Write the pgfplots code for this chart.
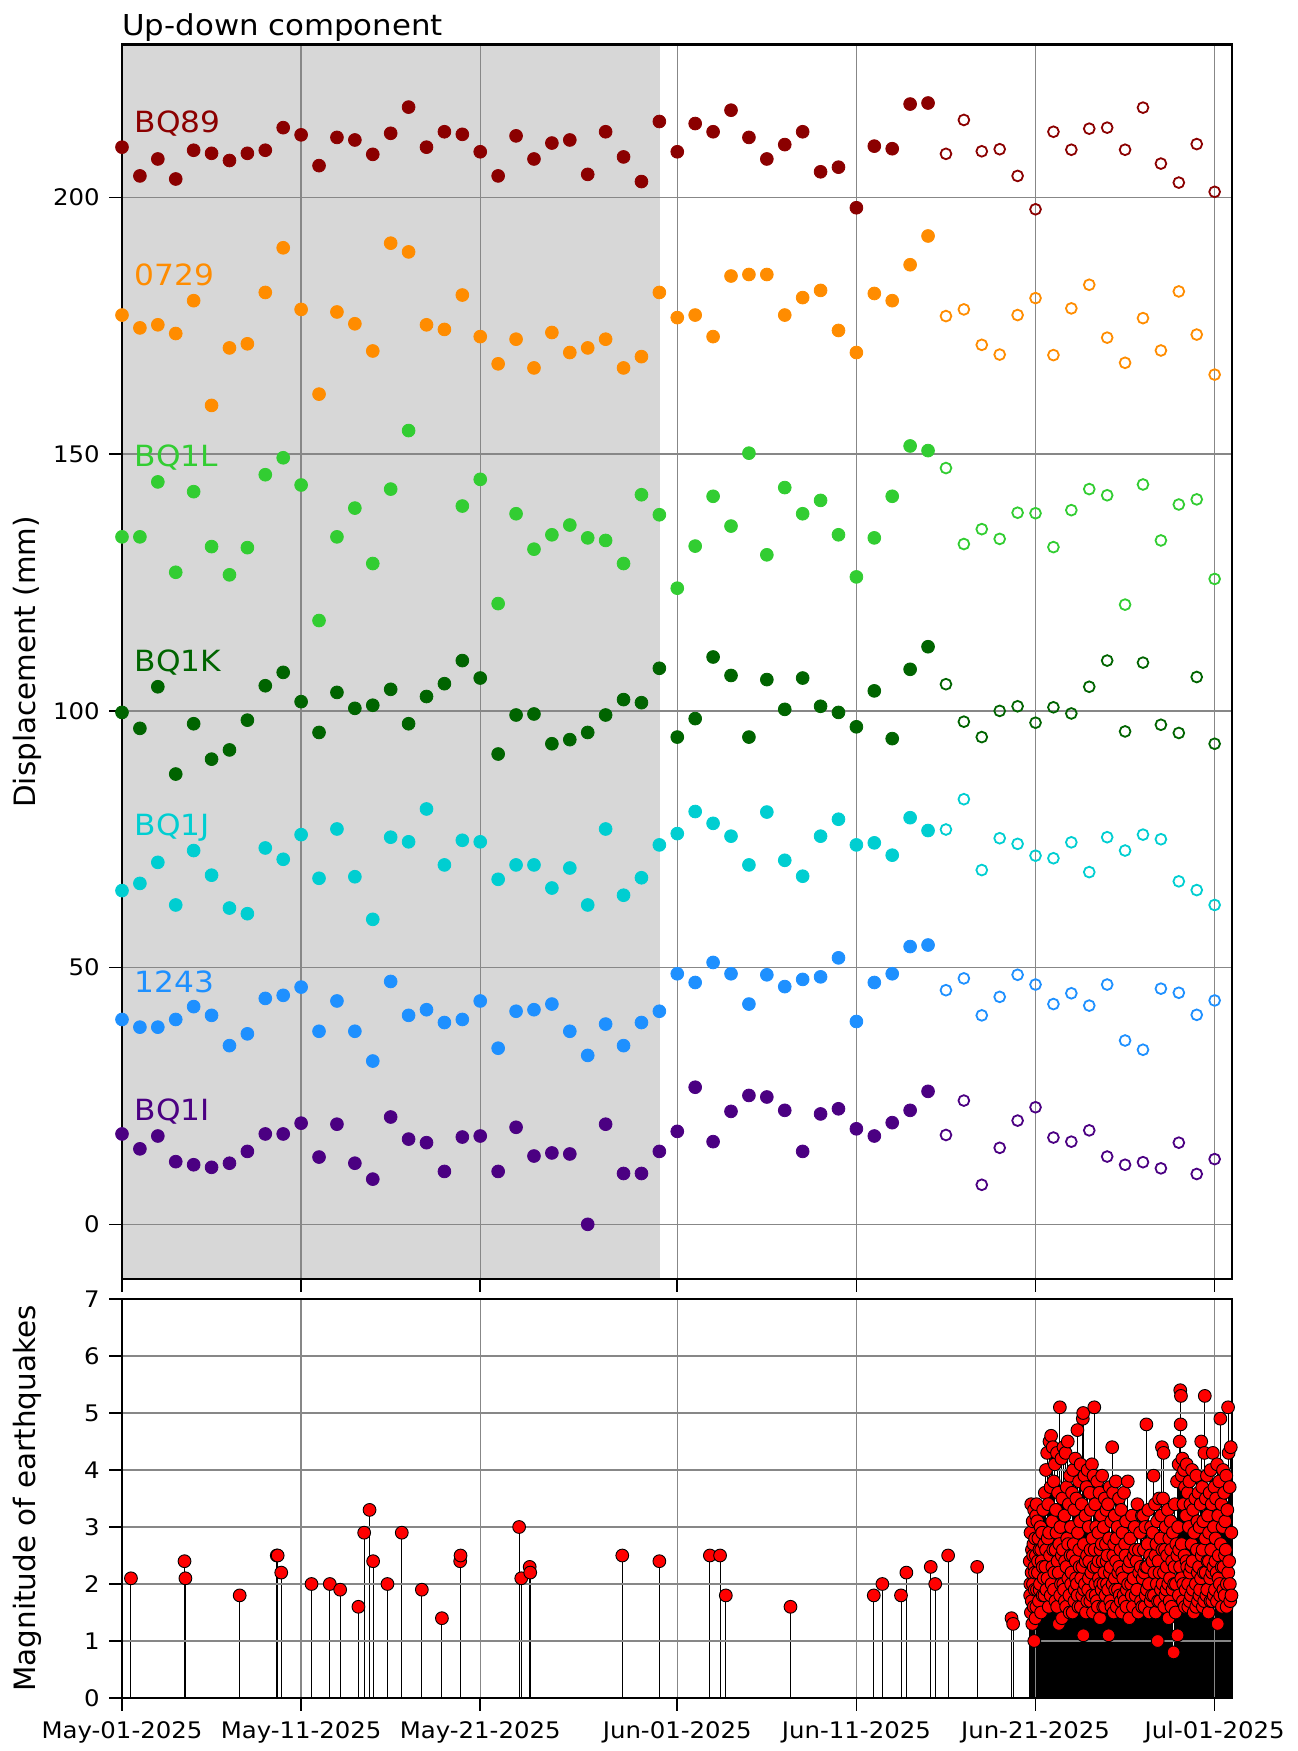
\documentclass[border=0pt]{standalone}
\usepackage{pgfplots}
\pgfplotsset{compat=1.18}
\usepackage{pgfplotstable}
\usepackage{fontspec}
\setmainfont{DejaVu Sans}
\newfontfamily\wide{DejaVu Sans}[FakeStretch=1.07]
\newcommand{\tickfont}{\wide\fontsize{11.4}{13}\selectfont}
\newcommand{\labfont}{\fontsize{14.7}{16}\selectfont}
\newcommand{\stafont}{\wide\fontsize{14.6}{16}\selectfont}

\definecolor{cA}{HTML}{8B0000}
\definecolor{cB}{HTML}{FF8C00}
\definecolor{cC}{HTML}{32CD32}
\definecolor{cD}{HTML}{006400}
\definecolor{cE}{HTML}{00CED1}
\definecolor{cF}{HTML}{1E90FF}
\definecolor{cG}{HTML}{4B0082}
\definecolor{shade}{RGB}{215,215,215}
\definecolor{gridc}{RGB}{135,135,135}

\pgfplotstableread{
x y
0 209.8
1 204.2
2 207.5
3 203.6
4 209.2
5 208.6
6 207.2
7 208.6
8 209.2
9 213.6
10 212.2
11 206.2
12 211.7
13 211.2
14 208.4
15 212.5
16 217.6
17 209.8
18 212.8
19 212.3
20 208.9
21 204.2
22 212.0
23 207.5
24 210.6
25 211.2
26 204.5
27 212.8
28 207.9
29 203.1
30 214.8
31 208.9
32 214.4
33 212.8
34 217.0
35 211.7
36 207.5
37 210.3
38 212.8
39 205.0
40 205.9
41 198.0
42 210.0
43 209.5
44 218.2
45 218.4
46 208.5
47 215.1
48 209.0
49 209.4
50 204.2
51 197.7
52 212.8
53 209.3
54 213.4
55 213.6
56 209.3
57 217.5
58 206.6
59 202.9
60 210.4
61 201.1
}\tA

\pgfplotstableread{
x y
0 177.1
1 174.6
2 175.2
3 173.5
4 179.9
5 159.5
6 170.7
7 171.5
8 181.5
9 190.2
10 178.2
11 161.7
12 177.7
13 175.4
14 170.1
15 191.1
16 189.4
17 175.2
18 174.3
19 181.0
20 172.9
21 167.6
22 172.4
23 166.8
24 173.7
25 169.8
26 170.7
27 172.4
28 166.8
29 169.0
30 181.5
31 176.6
32 177.1
33 172.9
34 184.7
35 185.0
36 185.0
37 177.1
38 180.5
39 181.9
40 174.1
41 169.8
42 181.3
43 179.9
44 186.9
45 192.5
46 176.9
47 178.2
48 171.3
49 169.4
50 177.1
51 180.4
52 169.3
53 178.4
54 183.0
55 172.7
56 167.8
57 176.5
58 170.2
59 181.7
60 173.3
61 165.5
}\tB

\pgfplotstableread{
x y
0 133.9
1 133.9
2 144.6
3 127.0
4 142.7
5 132.0
6 126.5
7 131.8
8 146.0
9 149.3
10 144.0
11 117.6
12 133.9
13 139.5
14 128.7
15 143.2
16 154.6
19 139.9
20 145.1
21 120.9
22 138.4
23 131.5
24 134.3
25 136.2
26 133.7
27 133.2
28 128.7
29 142.1
30 138.2
31 123.9
32 132.1
33 141.8
34 136.0
35 150.2
36 130.4
37 143.5
38 138.4
39 141.0
40 134.3
41 126.1
42 133.7
43 141.8
44 151.6
45 150.7
46 147.3
47 132.5
48 135.4
49 133.5
50 138.6
51 138.5
52 131.9
53 139.1
54 143.2
55 142.0
56 120.7
57 144.1
58 133.2
59 140.2
60 141.2
61 125.7
}\tC

\pgfplotstableread{
x y
0 99.7
1 96.6
2 104.7
3 87.7
4 97.5
5 90.6
6 92.4
7 98.2
8 104.9
9 107.5
10 101.8
11 95.8
12 103.6
13 100.5
14 101.1
15 104.2
16 97.5
17 102.8
18 105.3
19 109.8
20 106.4
21 91.6
22 99.2
23 99.4
24 93.6
25 94.4
26 95.8
27 99.2
28 102.2
29 101.6
30 108.3
31 94.9
32 98.5
33 110.5
34 106.9
35 94.9
36 106.1
37 100.3
38 106.4
39 100.9
40 99.7
41 96.9
42 103.9
43 94.6
44 108.1
45 112.5
46 105.2
47 97.9
48 94.9
49 100.0
50 100.9
51 97.7
52 100.7
53 99.5
54 104.7
55 109.8
56 96.0
57 109.4
58 97.3
59 95.7
60 106.6
61 93.6
}\tD

\pgfplotstableread{
x y
0 65.0
1 66.4
2 70.5
3 62.2
4 72.8
5 68.0
6 61.6
7 60.5
8 73.3
9 71.1
10 75.9
11 67.4
12 77.0
13 67.7
14 59.4
15 75.4
16 74.5
17 80.9
18 70.0
19 74.8
20 74.5
21 67.2
22 70.0
23 70.0
24 65.5
25 69.4
26 62.2
27 77.0
28 64.1
29 67.5
30 73.9
31 76.1
32 80.4
33 78.1
34 75.6
35 70.0
36 80.3
37 70.9
38 67.8
39 75.6
40 78.9
41 73.9
42 74.3
43 71.9
44 79.2
45 76.7
46 76.9
47 82.8
48 69.0
49 75.2
50 74.1
51 71.8
52 71.3
53 74.4
54 68.6
55 75.4
56 72.8
57 75.9
58 75.0
59 66.8
60 65.1
61 62.2
}\tE

\pgfplotstableread{
x y
0 39.9
1 38.4
2 38.4
3 39.9
4 42.4
5 40.7
6 34.8
7 37.1
8 44.0
9 44.6
10 46.2
11 37.6
12 43.5
13 37.6
14 31.8
15 47.3
16 40.7
17 41.8
18 39.3
19 39.9
20 43.5
21 34.3
22 41.5
23 41.8
24 42.9
25 37.6
26 32.9
27 39.0
28 34.8
29 39.3
30 41.5
31 48.8
32 47.1
33 51.0
34 48.8
35 42.9
36 48.6
37 46.3
38 47.7
39 48.2
40 51.9
41 39.5
42 47.1
43 48.8
44 54.1
45 54.4
46 45.6
47 47.9
48 40.7
49 44.3
50 48.6
51 46.7
52 42.9
53 45.0
54 42.6
55 46.7
56 35.8
57 34.0
58 45.9
59 45.1
60 40.8
61 43.6
}\tF

\pgfplotstableread{
x y
0 17.6
1 14.7
2 17.2
3 12.2
4 11.6
5 11.1
6 11.9
7 14.2
8 17.6
9 17.6
10 19.7
11 13.1
12 19.5
13 11.9
14 8.8
15 20.9
16 16.6
17 15.9
18 10.3
19 17.0
20 17.2
21 10.3
22 18.9
23 13.3
24 13.9
25 13.7
26 0.0
27 19.5
28 9.9
29 9.9
30 14.2
31 18.1
32 26.7
33 16.1
34 22.0
35 25.1
36 24.8
37 22.2
38 14.2
39 21.5
40 22.5
41 18.6
42 17.2
43 19.8
44 22.2
45 25.9
46 17.4
47 24.1
48 7.7
49 14.9
50 20.2
51 22.8
52 16.9
53 16.1
54 18.3
55 13.2
56 11.6
57 12.1
58 10.9
59 15.9
60 9.8
61 12.7
}\tG

\pgfplotstableread{
x y
0.50 2.1
3.49 2.4
3.54 2.1
6.57 1.8
8.64 2.5
8.69 2.5
8.89 2.2
10.58 2.0
11.60 2.0
12.18 1.9
13.20 1.6
13.52 2.9
13.82 3.3
14.02 2.4
14.82 2.0
15.62 2.9
16.74 1.9
17.86 1.4
18.88 2.4
18.90 2.5
22.17 3.0
22.29 2.1
22.76 2.3
22.79 2.2
27.93 2.5
30.00 2.4
32.82 2.5
33.39 2.5
33.71 1.8
37.32 1.6
41.97 1.8
42.45 2.0
43.49 1.8
43.79 2.2
45.15 2.3
45.40 2.0
46.12 2.5
47.74 2.3
49.66 1.4
49.75 1.3
50.68 2.4
50.70 1.8
50.71 2.0
50.72 2.9
50.74 1.5
50.76 3.4
50.78 2.2
50.79 1.7
50.80 2.6
50.82 1.3
50.84 3.1
50.86 2.0
50.87 2.5
50.88 2.7
50.90 1.6
50.92 3.3
50.93 1.0
50.94 2.3
50.96 1.9
50.97 2.2
50.98 2.8
51.00 1.4
51.02 2.5
51.04 3.2
51.05 1.6
51.06 3.4
51.08 1.9
51.10 3.1
51.13 2.2
51.14 2.4
51.16 2.8
51.19 1.7
51.22 2.6
51.23 1.9
51.25 2.0
51.28 3.0
51.31 1.5
51.32 2.6
51.34 2.4
51.37 2.9
51.40 1.8
51.41 2.3
51.43 3.3
51.46 2.1
51.49 2.7
51.50 1.8
51.52 3.6
51.55 2.3
51.58 4.0
51.59 2.6
51.61 1.9
51.65 4.3
51.67 2.1
51.68 2.8
51.71 3.4
51.74 1.6
51.76 2.9
51.78 4.5
51.81 2.5
51.84 3.7
51.85 1.8
51.87 4.6
51.90 2.0
51.93 3.1
51.94 2.3
51.96 4.4
51.99 2.6
52.02 3.8
52.03 1.9
52.05 2.2
52.08 4.1
52.11 1.7
52.12 2.6
52.14 3.3
52.17 2.9
52.20 4.3
52.21 1.6
52.23 2.4
52.26 3.6
52.29 2.2
52.30 1.3
52.33 2.7
52.36 5.1
52.38 1.8
52.39 3.0
52.42 2.0
52.45 4.2
52.47 2.5
52.48 1.4
52.50 3.5
52.53 2.6
52.55 2.0
52.56 4.4
52.59 1.9
52.62 3.2
52.64 1.7
52.65 2.4
52.68 4.3
52.71 1.6
52.73 2.3
52.74 3.7
52.77 2.8
52.80 4.5
52.82 2.7
52.83 2.1
52.86 3.4
52.89 1.8
52.91 1.5
52.92 3.9
52.95 2.5
52.98 3.0
52.99 2.0
53.01 2.2
53.04 3.6
53.07 1.5
53.08 2.5
53.10 4.0
53.13 2.7
53.16 3.3
53.17 1.7
53.19 1.9
53.22 4.2
53.25 2.4
53.26 2.1
53.28 3.5
53.31 2.0
53.34 4.7
53.35 1.8
53.37 2.9
53.40 1.6
53.43 3.8
53.44 2.6
53.46 2.3
53.49 3.1
53.52 4.1
53.53 1.6
53.55 2.1
53.58 3.4
53.61 1.8
53.62 2.3
53.64 4.9
53.66 5.0
53.67 1.1
53.70 2.7
53.71 1.9
53.73 3.9
53.76 2.0
53.79 3.2
53.80 2.4
53.82 1.5
53.85 3.7
53.88 2.5
53.89 1.7
53.91 4.0
53.94 1.9
53.97 3.0
53.98 2.1
54.00 2.4
54.03 3.6
54.06 1.7
54.07 2.6
54.09 3.3
54.12 2.2
54.15 4.1
54.16 1.8
54.18 2.8
54.21 1.5
54.24 3.9
54.25 2.3
54.28 5.1
54.30 2.6
54.33 3.4
54.34 2.0
54.36 1.8
54.39 3.0
54.42 2.3
54.43 1.7
54.45 3.8
54.48 1.6
54.51 2.9
54.52 2.4
54.54 2.1
54.57 3.6
54.60 1.4
54.61 2.0
54.63 2.6
54.66 3.2
54.69 1.9
54.70 2.7
54.72 3.9
54.75 2.4
54.78 1.6
54.79 2.0
54.81 3.0
54.84 2.2
54.87 3.5
54.88 1.6
54.90 1.8
54.93 2.7
54.96 3.3
54.97 2.4
54.99 2.0
55.02 2.5
55.05 3.4
55.06 1.9
55.08 1.1
55.11 2.8
55.14 3.7
55.15 2.2
55.17 1.7
55.20 2.3
55.23 3.1
55.24 1.6
55.28 4.4
55.30 2.0
55.33 3.6
55.34 2.5
55.36 1.5
55.39 2.7
55.42 3.2
55.43 2.1
55.45 1.9
55.48 3.8
55.50 2.4
55.52 2.8
55.54 1.6
55.58 3.0
55.60 1.9
55.62 2.2
55.66 3.5
55.68 2.3
55.70 1.8
55.74 2.6
55.76 1.7
55.78 3.3
55.82 1.5
55.84 2.2
55.86 2.9
55.90 2.1
55.92 1.8
55.94 3.6
55.98 1.7
56.00 2.7
56.02 2.5
56.06 3.1
56.08 1.6
56.10 1.9
56.15 3.8
56.17 2.0
56.19 2.3
56.24 1.4
56.27 2.4
56.29 2.8
56.34 2.0
56.37 1.8
56.39 3.2
56.44 1.6
56.47 2.1
56.49 2.5
56.54 3.0
56.57 2.6
56.59 1.8
56.64 2.4
56.67 1.9
56.69 3.4
56.74 1.5
56.77 2.6
56.79 2.2
56.84 2.9
56.87 2.3
56.89 1.7
56.94 3.2
56.96 1.6
56.98 2.1
57.01 3.2
57.05 2.6
57.07 2.2
57.09 1.6
57.13 3.0
57.15 1.8
57.17 2.3
57.19 4.8
57.22 1.9
57.24 2.3
57.26 2.7
57.30 3.3
57.33 2.0
57.35 1.5
57.40 2.5
57.43 1.7
57.45 3.0
57.50 1.8
57.53 2.4
57.55 2.9
57.59 3.9
57.61 1.8
57.63 2.2
57.67 3.4
57.69 2.5
57.71 1.5
57.75 2.7
57.77 2.0
57.79 3.1
57.82 1.0
57.84 1.7
57.86 2.4
57.90 3.5
57.92 2.2
57.94 1.7
57.98 2.8
58.00 1.9
58.02 3.2
58.06 4.4
58.08 2.6
58.09 2.0
58.12 3.5
58.15 4.3
58.17 2.2
58.19 1.6
58.23 2.6
58.25 1.8
58.27 3.0
58.31 1.9
58.33 2.3
58.35 2.5
58.39 3.3
58.41 2.0
58.43 1.4
58.47 2.8
58.49 1.7
58.51 2.1
58.55 3.1
58.57 2.6
58.59 1.6
58.63 2.4
58.65 1.9
58.67 2.9
58.71 0.8
58.74 2.0
58.76 2.3
58.78 3.4
58.82 1.5
58.84 2.0
58.86 2.7
58.90 3.8
58.92 2.5
58.93 1.1
58.96 3.0
58.99 4.1
59.00 1.8
59.02 2.6
59.05 4.5
59.07 2.3
59.08 5.4
59.10 4.8
59.12 5.3
59.14 2.1
59.16 2.7
59.17 3.9
59.20 4.2
59.23 1.7
59.25 2.0
59.26 3.4
59.29 4.0
59.32 2.5
59.34 1.6
59.35 3.7
59.38 1.9
59.41 3.2
59.43 2.4
59.44 4.1
59.47 2.3
59.50 3.6
59.52 2.0
59.53 1.6
59.56 3.0
59.59 3.8
59.61 1.7
59.62 2.2
59.65 3.4
59.68 1.8
59.70 2.3
59.71 2.7
59.74 4.0
59.77 2.4
59.79 1.9
59.80 3.3
59.83 1.5
59.86 2.9
59.92 3.5
59.95 2.0
59.97 1.6
59.98 3.9
60.01 2.6
60.04 3.1
60.06 2.2
60.07 1.7
60.10 3.6
60.13 2.3
60.15 1.8
60.16 3.0
60.19 1.9
60.22 3.4
60.24 2.1
60.25 4.5
60.28 2.5
60.31 3.7
60.33 2.6
60.34 1.6
60.37 3.1
60.40 2.2
60.42 1.7
60.43 4.3
60.45 5.3
60.48 2.8
60.50 2.2
60.51 3.5
60.54 1.8
60.57 3.9
60.59 1.9
60.60 2.4
60.63 3.2
60.66 1.5
60.68 2.4
60.69 2.9
60.72 3.6
60.75 2.1
60.77 1.7
60.78 4.0
60.81 2.6
60.84 3.4
60.86 2.2
60.87 1.7
60.90 4.3
60.93 2.3
60.95 1.8
60.96 3.0
60.99 3.7
61.02 1.9
61.04 2.4
61.05 2.8
61.08 3.5
61.11 2.2
61.13 1.7
61.14 4.1
61.17 1.3
61.20 3.2
61.22 2.1
61.23 2.5
61.26 3.8
61.29 2.0
61.31 1.8
61.32 4.9
61.35 2.7
61.38 3.4
61.40 2.3
61.41 1.6
61.44 3.0
61.47 4.0
61.49 1.9
61.50 2.3
61.53 3.6
61.56 1.8
61.58 2.5
61.59 3.1
61.62 2.6
61.65 3.9
61.67 1.6
61.68 2.0
61.71 3.3
61.75 5.1
61.76 2.2
61.78 4.3
61.81 2.4
61.84 3.7
61.85 2.0
61.87 1.7
61.90 4.4
61.93 2.9
61.94 1.8
}\tQ

\pgfplotsset{
  base/.style={
    scale only axis, width=555pt,
    xmin=0, xmax=61.97,
    xtick={0,10,20,31,41,51,61},
    xtick pos=bottom, ytick pos=left,
    tick align=outside, major tick length=6.5pt,
    tick style={black, line width=0.8pt},
    axis line style={black, line width=1.3pt},
    grid=major, grid style={gridc, line width=0.7pt},
    tick label style={font=\tickfont, inner sep=0pt},
    yticklabel style={anchor=east, xshift=-4.5pt},
    set layers,
  },
  fil/.style={only marks, mark=*, mark size=3.2pt, color=#1, mark options={draw=#1, fill=#1}, restrict x to domain=-1:45.5},
  hol/.style={only marks, mark=o, mark size=2.7pt, color=#1, mark options={draw=#1, line width=0.9pt}, restrict x to domain=45.5:70},
}

\begin{document}
\begin{tikzpicture}
\path (0,0) rectangle (648.5pt,875.5pt);

\begin{axis}[base,
  at={(61pt,236pt)}, anchor=south west, height=617.15pt,
  ymin=-10.65, ymax=229.76,
  ytick={0,50,100,150,200}, yticklabels={0,50,100,150,200},
  xticklabels={},
  ylabel={Displacement (mm)},
  every axis y label/.style={at={(axis description cs:-0.085,0.5)}, rotate=90, anchor=center, font=\labfont},
  title={Up-down component},
  every axis title/.style={at={(axis description cs:0,1)}, anchor=base west, yshift=4.65pt, inner sep=0pt, font=\wide\fontsize{14.4}{16}\selectfont},
]
\addplot[fill=shade, draw=none, on layer=axis background, forget plot] coordinates {(0,-10.65) (30.03,-10.65) (30.03,229.76) (0,229.76)} -- cycle;

\addplot[fil=cA] table {\tA};
\addplot[hol=cA] table {\tA};
\addplot[fil=cB] table {\tB};
\addplot[hol=cB] table {\tB};
\addplot[fil=cC] table {\tC};
\addplot[hol=cC] table {\tC};
\addplot[fil=cD] table {\tD};
\addplot[hol=cD] table {\tD};
\addplot[fil=cE] table {\tE};
\addplot[hol=cE] table {\tE};
\addplot[fil=cF] table {\tF};
\addplot[hol=cF] table {\tF};
\addplot[fil=cG] table {\tG};
\addplot[hol=cG] table {\tG};

\node[anchor=base west, inner sep=0pt, font=\stafont, text=cA] at (axis cs:0.68,212.6) {BQ89};
\node[anchor=base west, inner sep=0pt, font=\stafont, text=cB] at (axis cs:0.68,182.9) {0729};
\node[anchor=base west, inner sep=0pt, font=\stafont, text=cC] at (axis cs:0.68,147.6) {BQ1L};
\node[anchor=base west, inner sep=0pt, font=\stafont, text=cD] at (axis cs:0.68,107.6) {BQ1K};
\node[anchor=base west, inner sep=0pt, font=\stafont, text=cE] at (axis cs:0.68,75.7) {BQ1J};
\node[anchor=base west, inner sep=0pt, font=\stafont, text=cF] at (axis cs:0.68,45.1) {1243};
\node[anchor=base west, inner sep=0pt, font=\stafont, text=cG] at (axis cs:0.68,20.2) {BQ1I};
\end{axis}

\begin{axis}[base,
  at={(61pt,26.5pt)}, anchor=south west, height=199.5pt,
  ymin=0, ymax=7,
  ytick={0,1,2,3,4,5,6,7}, yticklabels={0,1,2,3,4,5,6,7},
  xticklabels={May-01-2025,May-11-2025,May-21-2025,Jun-01-2025,Jun-11-2025,Jun-21-2025,Jul-01-2025},
  xticklabel style={anchor=base, yshift=-14pt},
  ylabel={Magnitude of earthquakes},
  every axis y label/.style={at={(axis description cs:-0.085,0.5)}, rotate=90, anchor=center, font=\labfont},
]
\addplot[ycomb, black, line width=0.5pt, no marks, on layer=axis background] table {\tQ};
\addplot[only marks, mark=*, mark size=3.2pt, mark options={fill=red, draw=black, line width=0.45pt}] table {\tQ};
\end{axis}
\end{tikzpicture}
\end{document}
